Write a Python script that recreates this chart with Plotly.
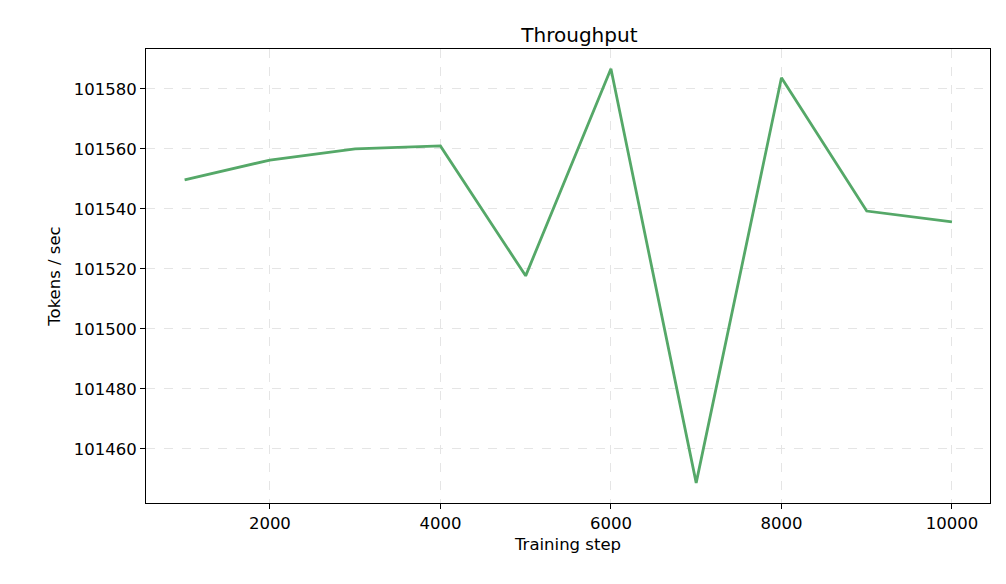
import plotly.graph_objects as go

steps = [1000, 2000, 3000, 4000, 5000, 6000, 7000, 8000, 9000, 10000]
throughput = [101549.7, 101556.3, 101560.0, 101561.0, 101517.7, 101586.7, 101448.7, 101583.7, 101539.3, 101535.7]
xticks = [2000, 4000, 6000, 8000, 10000]
yticks = [101460, 101480, 101500, 101520, 101540, 101560, 101580]

fig = go.Figure(go.Scatter(x=steps, y=throughput, mode="lines",
                           line=dict(color="#55a868", width=2.8)))
ax = dict(showline=True, linecolor="black", linewidth=1, mirror=True,
          ticks="outside", ticklen=5, tickcolor="black",
          showgrid=True, gridcolor="#e5e5e5", griddash="dash", gridwidth=0.8,
          zeroline=False, tickfont=dict(size=16.5, color="black"))
fig.update_layout(
    width=1006, height=584, paper_bgcolor="white", plot_bgcolor="white",
    font=dict(family="DejaVu Sans", color="black"),
    title=dict(text="Throughput", x=0.568, xanchor="center", y=0.965, font=dict(size=20)),
    margin=dict(l=138, r=24, t=41, b=89), showlegend=False,
    xaxis=dict(ax, range=[547, 10446], tickvals=xticks, ticktext=[str(v) for v in xticks],
               title=dict(text="Training step", font=dict(size=16.5), standoff=6)),
    yaxis=dict(ax, range=[101442, 101593.3], tickvals=yticks, ticktext=[str(v) for v in yticks],
               title=dict(text="Tokens / sec", font=dict(size=16.5), standoff=8)),
)
fig.write_html("out.html")
